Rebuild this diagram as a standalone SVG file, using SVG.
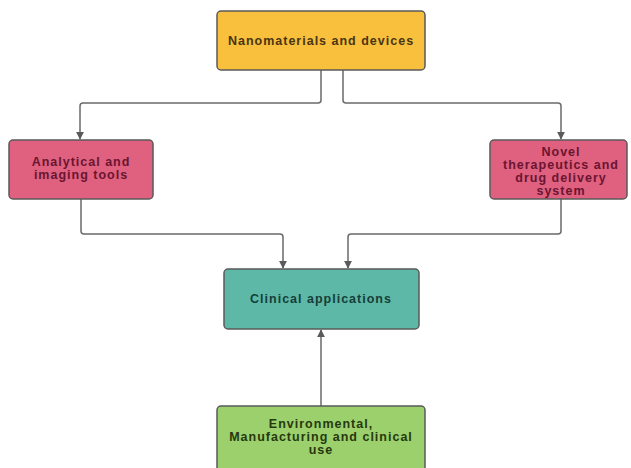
<svg xmlns="http://www.w3.org/2000/svg" width="631" height="468" viewBox="0 0 631 468">
<style>
.box{stroke:#5a5a5a;stroke-width:1.5}
.t{font-family:"Liberation Sans",Arial,sans-serif;font-weight:bold;font-size:12.5px;letter-spacing:1px;text-anchor:middle}
.c{fill:none;stroke:#6a6a6a;stroke-width:1.5;stroke-linejoin:round}
</style>
<defs>
<marker id="ah" viewBox="0 0 10 10" refX="9" refY="5" markerWidth="8" markerHeight="8" markerUnits="userSpaceOnUse" orient="auto">
<path d="M0,0 L10,5 L0,10 z" fill="#5a5a5a"/>
</marker>
</defs>
<rect width="631" height="468" fill="#ffffff"/>
<g id="connectors">
<path class="c" d="M321,70 V100 Q321,103 318,103 H83 Q80,103 80,106 V139" marker-end="url(#ah)"/>
<path class="c" d="M343,70 V100 Q343,103 346,103 H558 Q561,103 561,106 V139" marker-end="url(#ah)"/>
<path class="c" d="M81,199 V231 Q81,234 84,234 H280 Q283,234 283,237 V268" marker-end="url(#ah)"/>
<path class="c" d="M561,199 V231 Q561,234 558,234 H351 Q348,234 348,237 V268" marker-end="url(#ah)"/>
<path class="c" d="M321,406 V330" marker-end="url(#ah)"/>
</g>
<g id="nanomaterials">
<rect class="box" x="217" y="11" width="208" height="59" rx="4" fill="#F8C03D"/>
<text class="t" x="321" y="45" fill="#4a3512">Nanomaterials and devices</text>
</g>
<g id="analytical">
<rect class="box" x="9" y="140" width="144" height="59" rx="4" fill="#E0607F"/>
<text class="t" x="81" y="166" fill="#6a1530">Analytical and</text>
<text class="t" x="81" y="179" fill="#6a1530">imaging tools</text>
</g>
<g id="novel">
<rect class="box" x="490" y="140" width="137" height="59" rx="4" fill="#E0607F"/>
<text class="t" x="561" y="156" fill="#6a1530">Novel</text>
<text class="t" x="561" y="169" fill="#6a1530">therapeutics and</text>
<text class="t" x="561" y="182" fill="#6a1530">drug delivery</text>
<text class="t" x="561" y="195" fill="#6a1530">system</text>
</g>
<g id="clinical">
<rect class="box" x="224" y="269" width="195" height="60" rx="4" fill="#5DB8A7"/>
<text class="t" x="321" y="303" fill="#163e38">Clinical applications</text>
</g>
<g id="environmental">
<rect class="box" x="217" y="406" width="208" height="70" rx="4" fill="#9BD06C"/>
<text class="t" x="321" y="428" fill="#27380f">Environmental,</text>
<text class="t" x="321" y="441" fill="#27380f">Manufacturing and clinical</text>
<text class="t" x="321" y="454" fill="#27380f">use</text>
</g>
</svg>
